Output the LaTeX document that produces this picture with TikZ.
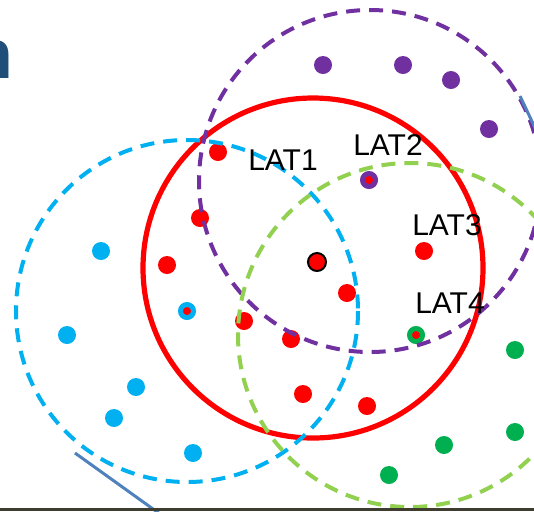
\documentclass[tikz,border=0pt]{standalone}
\usepackage{fontspec}
\setmainfont{Liberation Sans}
\definecolor{latred}{HTML}{FF0000}
\definecolor{latpurple}{HTML}{7030A0}
\definecolor{latcyan}{HTML}{00B0F0}
\definecolor{latlime}{HTML}{92D050}
\definecolor{latgreen}{HTML}{00B050}
\definecolor{slideblue}{HTML}{4F81BD}
\definecolor{titleblue}{HTML}{1F4E79}
\definecolor{slidebar}{HTML}{3F3D30}
\def\unit{0.5pt}

\begin{document}
\begin{tikzpicture}[x=\unit, y=-\unit,
    dot/.style={circle, inner sep=0pt, minimum size=9pt, fill=#1},
    ringdot/.style={circle, inner sep=0pt, minimum size=6.5pt, fill=latred, draw=#1, line width=2.5pt},
    zone/.style={draw=#1, line width=2pt, dash pattern=on 7pt off 4.5pt},
    lat/.style={inner sep=0pt, font=\fontsize{15}{18}\selectfont}]
      \useasboundingbox (0,0) rectangle (534,511);
      \draw[latred, line width=2.6pt] (313,268) circle (170);
      \node[dot=latpurple] (p1) at (323,65) {};
      \node[dot=latpurple] (p2) at (403,65) {};
      \node[dot=latpurple] (p3) at (451,80) {};
      \node[dot=latpurple] (p4) at (489,129) {};
      \node[dot=latred] (r1) at (218,152) {};
      \node[dot=latred] (r2) at (200,218) {};
      \node[dot=latred] (r3) at (167,265) {};
      \node[dot=latred] (r4) at (244,321) {};
      \node[dot=latred] (r5) at (291,339) {};
      \node[dot=latred] (r6) at (347,293) {};
      \node[dot=latred] (r7) at (303,394) {};
      \node[dot=latred] (r8) at (367,406) {};
      \node[dot=latred] (r9) at (424,251) {};
      \node[dot=latred, draw=black, line width=1pt] (home) at (317,262) {};
      \node[dot=latcyan] (b1) at (101,251) {};
      \node[dot=latcyan] (b2) at (67,335) {};
      \node[dot=latcyan] (b3) at (136,387) {};
      \node[dot=latcyan] (b4) at (114,418) {};
      \node[dot=latcyan] (b5) at (193,453) {};
      \node[dot=latgreen] (g1) at (515,350) {};
      \node[dot=latgreen] (g2) at (515,432) {};
      \node[dot=latgreen] (g3) at (444,445) {};
      \node[dot=latgreen] (g4) at (389,475) {};
      \node[ringdot=latcyan] (lat1) at (187,311) {};
      \node[ringdot=latpurple] (lat2) at (369,180) {};
      \node[ringdot=latgreen] (lat4) at (416,335) {};
      \draw[zone=latpurple] (370,181) circle (171);
      \draw[zone=latcyan] (187,311) circle (171);
      \draw[zone=latlime] (410,335) circle (172);
      \node[lat] (t1) at (283,160) {LAT1};
      \node[lat] (t2) at (388,145) {LAT2};
      \node[lat] (t3) at (447,225) {LAT3};
      \node[lat] (t4) at (450,303) {LAT4};
      \node[anchor=base east, inner sep=0pt, text=titleblue, font=\fontsize{35}{40}\selectfont\bfseries] (title) at (14,78) {n};
      \draw[slideblue, line width=1.5pt] (75,453) -- (160,514);
      \draw[slideblue, line width=1.5pt] (520,96) -- (536,130);
      \fill[slidebar] (0,508) rectangle (534,511);
    \end{tikzpicture}
\end{document}
